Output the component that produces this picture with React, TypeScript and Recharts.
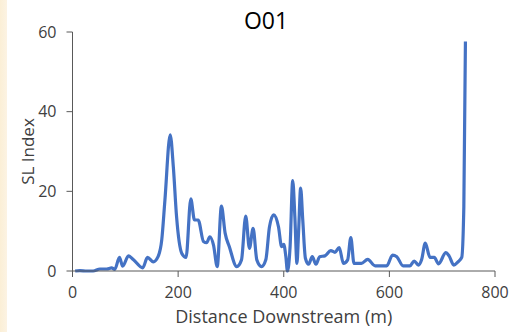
import { Label, Line, LineChart, XAxis, YAxis } from 'recharts';

const distances = [
  5, 14, 27, 39, 52, 65, 74, 80, 89, 95, 106, 115, 133, 142, 153, 162, 169, 175, 185, 191,
  197, 207, 215, 224, 231, 238, 248, 254, 260, 267, 274, 282, 289, 297, 311, 320, 328, 335,
  342, 349, 358, 366, 373, 381, 390, 396, 400, 404, 407, 412, 417, 421, 425, 428, 432, 436,
  441, 447, 454, 461, 468, 478, 489, 497, 505, 513, 521, 527, 533, 547, 559, 573, 595, 606,
  614, 626, 639, 647, 655, 661, 668, 677, 685, 693, 707, 713, 722, 730, 737, 741, 744,
];

const slIndex = [
  0, 0.1, 0, 0, 0.5, 0.5, 0.8, 0.4, 3.4, 1.2, 3.8, 2.9, 0.8, 3.4, 2.3, 3.6, 7.8, 17.8, 34.2, 26,
  13.7, 4.4, 3.4, 18.1, 12.8, 12.8, 7.4, 7.1, 8.6, 6.5, 1.1, 16.3, 9.5, 6.1, 1.1, 2.8, 13.8, 5.7,
  10.7, 2.8, 1.1, 2.8, 11.1, 14.1, 11.1, 6.1, 6.7, 3.6, 0, 6.1, 22.7, 13.7, 1.9, 9.5, 20.8, 12.8,
  3.2, 1.7, 3.6, 1.7, 3.6, 3.8, 5.1, 4.7, 5.9, 1.9, 2.8, 8.4, 1.9, 1.9, 2.9, 1.3, 1.3, 4.0,
  3.6, 1.3, 1.3, 2.5, 1.5, 2.8, 7.0, 3.4, 3.4, 1.8, 4.6, 3.8, 1.5, 2.3, 3.4, 16.2, 57.6,
];

const xTicks = [0, 200, 400, 600, 800];
const yTicks = [0, 20, 40, 60];

const data = distances.map((d, i) => ({ d, v: slIndex[i] }));

const font = '"Open Sans", sans-serif';
const axisColor = '#595959';
const textColor = '#404040';

const YLabel = ({ viewBox }: any) => {
  const cx = 27;
  const cy = viewBox.y + viewBox.height / 2;
  return (
    <text
      x={cx}
      y={cy}
      transform={`rotate(-90 ${cx} ${cy})`}
      textAnchor="middle"
      dominantBaseline="central"
      fill={textColor}
      fontSize={17}
      fontFamily={font}
    >
      SL Index
    </text>
  );
};

export default function App() {
  return (
    <div
      style={{
        position: 'absolute',
        left: 0,
        top: 0,
        width: 511,
        height: 332,
        background: '#ffffff',
        fontFamily: font,
      }}
    >
      <div
        style={{
          position: 'absolute',
          left: 0,
          top: 0,
          width: 7,
          height: 332,
          background: 'linear-gradient(to right, #fbefd6, #fcf3e3)',
        }}
      />
      <div
        style={{
          position: 'absolute',
          left: 0,
          width: 532,
          top: 5,
          textAlign: 'center',
          fontSize: 23,
          color: '#000000',
          lineHeight: '30px',
        }}
      >
        O01
      </div>
      <LineChart
        width={511}
        height={332}
        data={data}
        margin={{ top: 32, right: 16, bottom: 4, left: 0 }}
      >
        <XAxis
          dataKey="d"
          type="number"
          domain={[0, 800]}
          ticks={xTicks}
          height={57}
          tickSize={6}
          tickMargin={10}
          stroke={axisColor}
          tick={{ fill: textColor, fontSize: 16, fontFamily: font }}
          tickLine={{ stroke: axisColor }}
        >
          <Label
            value="Distance Downstream (m)"
            position="insideBottom"
            offset={5}
            fill={textColor}
            fontSize={18}
            fontFamily={font}
          />
        </XAxis>
        <YAxis
          type="number"
          domain={[0, 60]}
          ticks={yTicks}
          width={72.5}
          tickSize={6}
          tickMargin={10}
          stroke={axisColor}
          tick={{ fill: textColor, fontSize: 16, fontFamily: font }}
          tickLine={{ stroke: axisColor }}
        >
          <Label content={YLabel} />
        </YAxis>
        <Line
          type="monotone"
          dataKey="v"
          stroke="#4472C4"
          strokeWidth={3.2}
          dot={false}
          isAnimationActive={false}
        />
      </LineChart>
    </div>
  );
}
